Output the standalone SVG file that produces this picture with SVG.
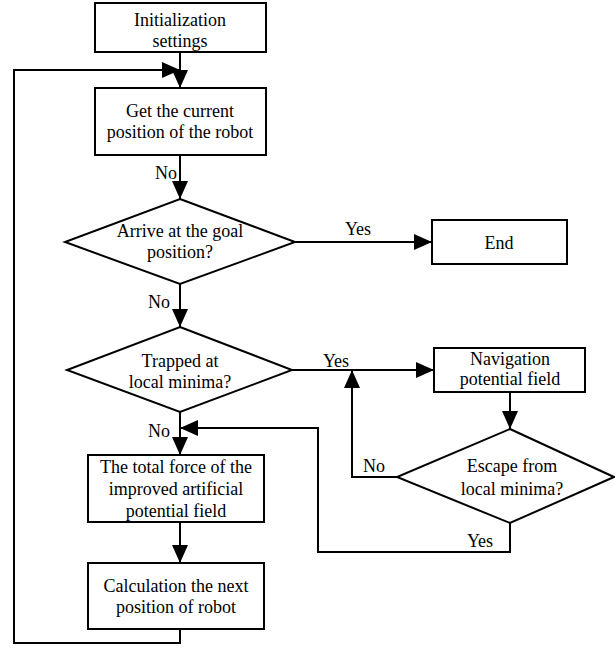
<svg xmlns="http://www.w3.org/2000/svg" width="615" height="654" viewBox="0 0 615 654" font-family="Liberation Serif, Times New Roman, serif">
<defs>
<style>
.box{fill:#fff;stroke:#000;stroke-width:2}
.ln{fill:none;stroke:#000;stroke-width:2}
.t{font-family:"Liberation Serif","Times New Roman",Times,serif;font-size:18px;fill:#000;text-anchor:middle}
</style>
<marker id="ah" markerUnits="userSpaceOnUse" markerWidth="18" markerHeight="16" refX="18" refY="8" orient="auto">
<path d="M0,0 L18,8 L0,16 Z" fill="#000"/>
</marker>
</defs>
<rect width="615" height="654" fill="#fff"/>
<g id="connectors">
<line class="ln" x1="180" y1="52" x2="180" y2="88" marker-end="url(#ah)"/>
<polyline class="ln" points="180,629 180,643 14,643 14,70 180,70" marker-end="url(#ah)"/>
<line class="ln" x1="180" y1="155" x2="180" y2="199" marker-end="url(#ah)"/>
<line class="ln" x1="295" y1="242" x2="432" y2="242" marker-end="url(#ah)"/>
<line class="ln" x1="180" y1="284" x2="180" y2="327" marker-end="url(#ah)"/>
<line class="ln" x1="292" y1="370" x2="434" y2="370" marker-end="url(#ah)"/>
<line class="ln" x1="180" y1="412" x2="180" y2="455" marker-end="url(#ah)"/>
<line class="ln" x1="510" y1="392" x2="510" y2="429" marker-end="url(#ah)"/>
<polyline class="ln" points="397,477 352,477 352,370" marker-end="url(#ah)"/>
<polyline class="ln" points="510,523 510,552 318,552 318,428 180,428" marker-end="url(#ah)"/>
<line class="ln" x1="180" y1="522" x2="180" y2="563" marker-end="url(#ah)"/>
<text class="t" x="166" y="179">No</text>
<text class="t" x="358" y="235">Yes</text>
<text class="t" x="159" y="308">No</text>
<text class="t" x="336" y="367">Yes</text>
<text class="t" x="159" y="437">No</text>
<text class="t" x="374" y="472">No</text>
<text class="t" x="480" y="547">Yes</text>
</g>
<g id="init">
<rect class="box" x="95" y="3" width="171" height="49"/>
<text class="t" x="180" y="26">Initialization</text>
<text class="t" x="180" y="47">settings</text>
</g>
<g id="get">
<rect class="box" x="95" y="88" width="171" height="67"/>
<text class="t" x="180" y="117">Get the current</text>
<text class="t" x="180" y="138">position of the robot</text>
</g>
<g id="arrive">
<polygon class="box" points="180,199 295,242 180,284 65,242"/>
<text class="t" x="180" y="237">Arrive at the goal</text>
<text class="t" x="180" y="258">position?</text>
</g>
<g id="end">
<rect class="box" x="432" y="220" width="135" height="44"/>
<text class="t" x="499" y="249">End</text>
</g>
<g id="trapped">
<polygon class="box" points="180,327 292,370 180,412 67,370"/>
<text class="t" x="180" y="367">Trapped at</text>
<text class="t" x="180" y="388">local minima?</text>
</g>
<g id="nav">
<rect class="box" x="434" y="348" width="151" height="44"/>
<text class="t" x="510" y="365">Navigation</text>
<text class="t" x="510" y="385">potential field</text>
</g>
<g id="escape">
<polygon class="box" points="510,429 614,477 510,523 397,477"/>
<text class="t" x="512" y="472">Escape from</text>
<text class="t" x="512" y="495">local minima?</text>
</g>
<g id="total">
<rect class="box" x="88" y="455" width="176" height="67"/>
<text class="t" x="176" y="473">The total force of the</text>
<text class="t" x="176" y="495">improved artificial</text>
<text class="t" x="176" y="517">potential field</text>
</g>
<g id="calc">
<rect class="box" x="88" y="563" width="176" height="66"/>
<text class="t" x="176" y="592">Calculation the next</text>
<text class="t" x="176" y="613">position of robot</text>
</g>
</svg>
